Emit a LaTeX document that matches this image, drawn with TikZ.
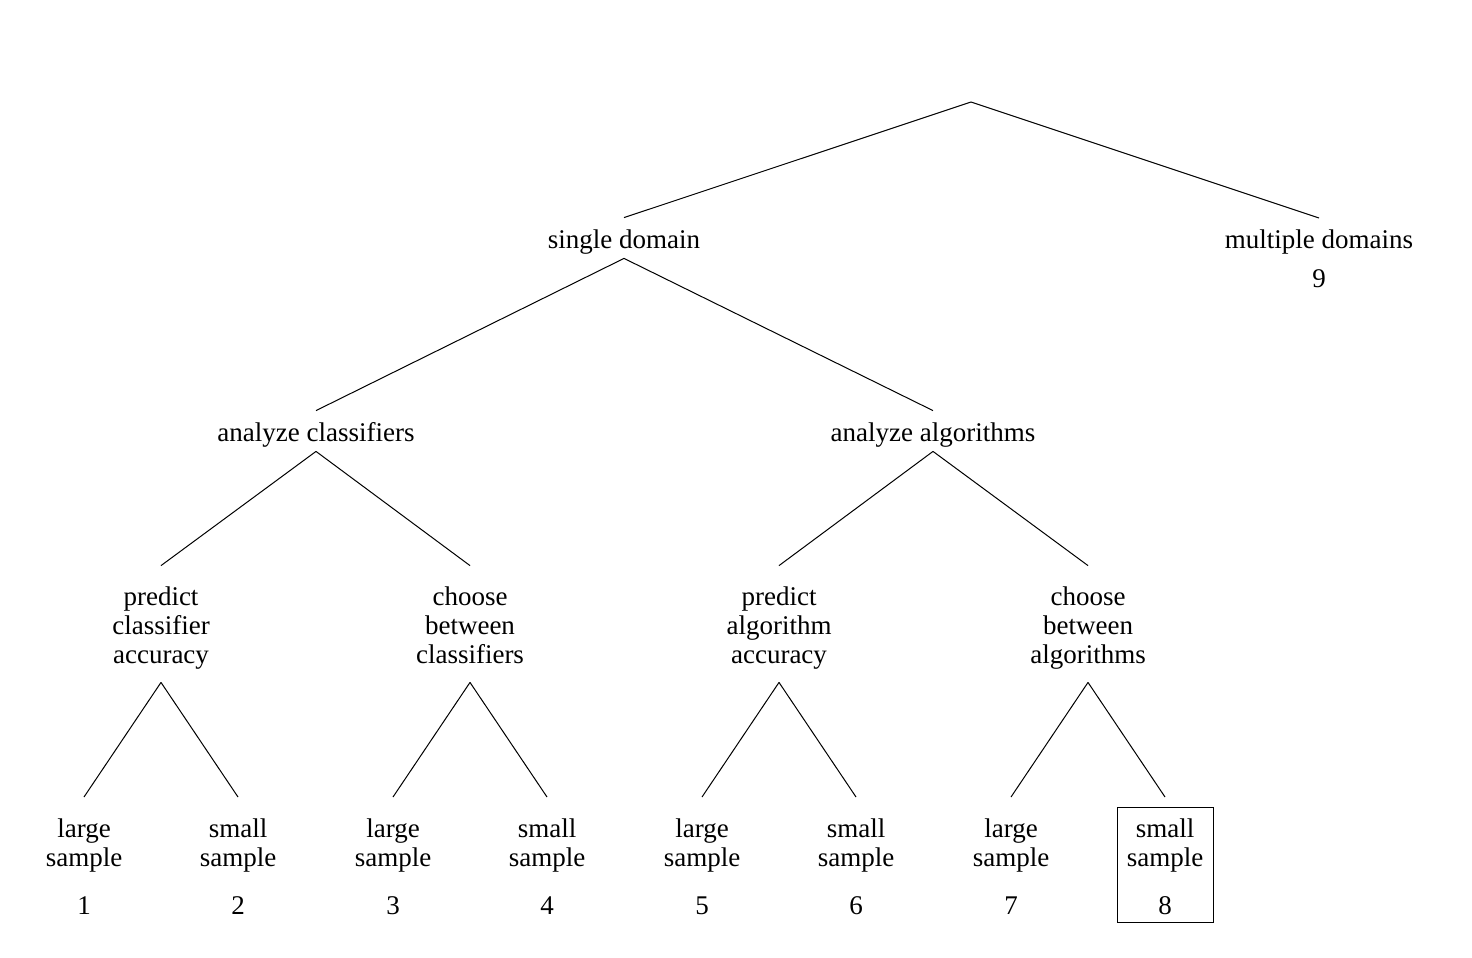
\documentclass[tikz,border=0pt]{standalone}
\usepackage{fontspec}
\setmainfont{Liberation Serif}
\begin{document}
\begin{tikzpicture}[x=0.5pt, y=-0.5pt,
  one/.style={inner sep=0pt, text height=15pt, text depth=5pt, font=\fontsize{13.5}{14.5}\selectfont},
  three/.style={inner sep=0pt, text height=48.5pt, text depth=9.5pt, align=center, font=\fontsize{13.5}{14.5}\selectfont},
  leaf/.style={inner sep=0pt, outer ysep=5pt, minimum width=48pt, text height=53.5pt, text depth=4pt, align=center, font=\fontsize{13.5}{14.5}\selectfont},
  edge/.style={line width=0.5pt}
]
  \useasboundingbox (0,0) rectangle (1472,958);

  \coordinate (root) at (971,102);

  \node[one] (sd) at (624,238) {single domain};
  \node[inner sep=0pt, inner ysep=5.8pt, align=center, font=\fontsize{13.5}{14.5}\selectfont] (md) at (1319,259) {multiple domains\\[5pt]9};

  \node[one] (ac) at (316,431) {analyze classifiers};
  \node[one] (aa) at (933,431) {analyze algorithms};

  \node[three] (pc) at (161,624) {predict\\classifier\\accuracy};
  \node[three] (cc) at (470,624) {choose\\between\\classifiers};
  \node[three] (pa) at (779,624) {predict\\algorithm\\accuracy};
  \node[three] (ca) at (1088,624) {choose\\between\\algorithms};

  \node[leaf] (l1) at (84,864.5) {large\\sample\\[9.5pt]1};
  \node[leaf] (l2) at (238,864.5) {small\\sample\\[9.5pt]2};
  \node[leaf] (l3) at (393,864.5) {large\\sample\\[9.5pt]3};
  \node[leaf] (l4) at (547,864.5) {small\\sample\\[9.5pt]4};
  \node[leaf] (l5) at (702,864.5) {large\\sample\\[9.5pt]5};
  \node[leaf] (l6) at (856,864.5) {small\\sample\\[9.5pt]6};
  \node[leaf] (l7) at (1011,864.5) {large\\sample\\[9.5pt]7};
  \node[leaf, draw, line width=0.5pt] (l8) at (1165,864.5) {small\\sample\\[9.5pt]8};

  \draw[edge] (root) -- (sd.north);
  \draw[edge] (root) -- (md.north);
  \draw[edge] (sd.south) -- (ac.north);
  \draw[edge] (sd.south) -- (aa.north);
  \draw[edge] (ac.south) -- (pc.north);
  \draw[edge] (ac.south) -- (cc.north);
  \draw[edge] (aa.south) -- (pa.north);
  \draw[edge] (aa.south) -- (ca.north);
  \draw[edge] (pc.south) -- (l1.north);
  \draw[edge] (pc.south) -- (l2.north);
  \draw[edge] (cc.south) -- (l3.north);
  \draw[edge] (cc.south) -- (l4.north);
  \draw[edge] (pa.south) -- (l5.north);
  \draw[edge] (pa.south) -- (l6.north);
  \draw[edge] (ca.south) -- (l7.north);
  \draw[edge] (ca.south) -- (l8.north);
\end{tikzpicture}
\end{document}
